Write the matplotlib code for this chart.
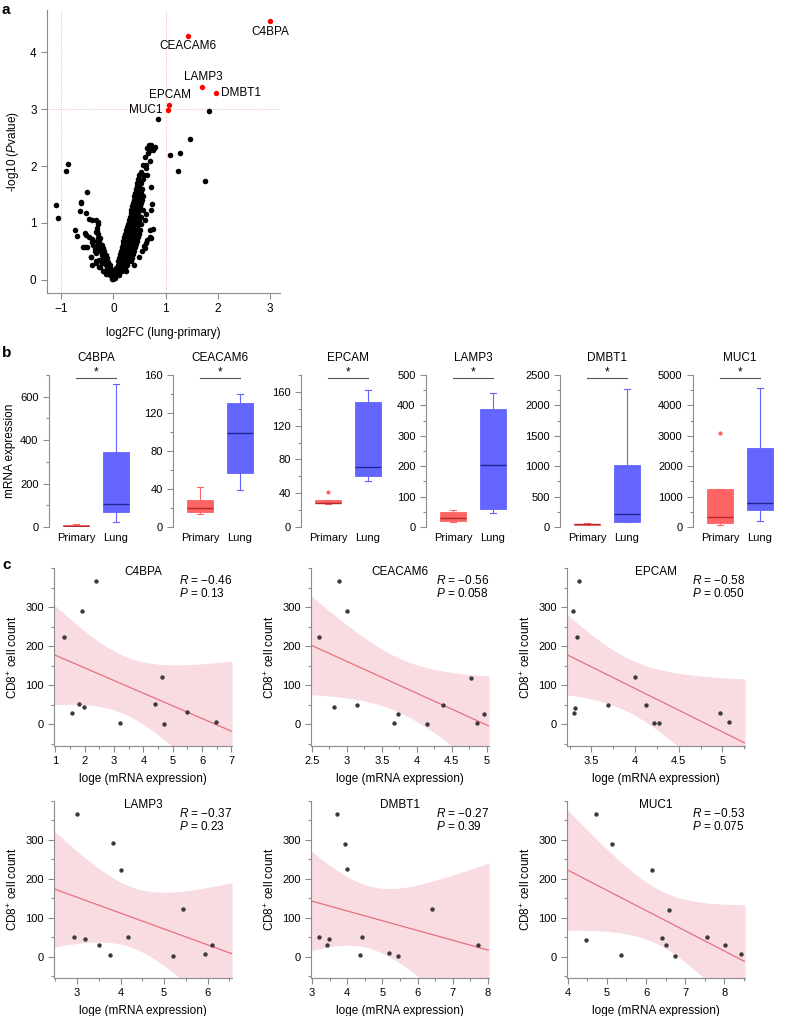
import numpy as np
import matplotlib
matplotlib.use('Agg')
import matplotlib.pyplot as plt
from matplotlib.ticker import MultipleLocator
from matplotlib.transforms import blended_transform_factory

plt.rcParams['font.family'] = ['Liberation Sans', 'DejaVu Sans']
plt.rcParams['mathtext.fontset'] = 'custom'
plt.rcParams['mathtext.rm'] = 'Liberation Sans'
plt.rcParams['mathtext.it'] = 'Liberation Sans:italic'
plt.rcParams['font.size'] = 8

W, H = 786, 1016

# ---------------- panel a: volcano ----------------
volcano_points = [
    # left arm (dense)
    (-0.02, 0.02), (0.0, 0.02), (-0.06, 0.08), (-0.03, 0.08),
    (-0.09, 0.14), (-0.05, 0.14), (-0.12, 0.20), (-0.08, 0.20), (-0.05, 0.20),
    (-0.15, 0.26), (-0.11, 0.26), (-0.07, 0.26), (-0.18, 0.32), (-0.14, 0.32), (-0.10, 0.32),
    (-0.20, 0.38), (-0.16, 0.38), (-0.12, 0.38), (-0.22, 0.44), (-0.18, 0.44), (-0.14, 0.44),
    (-0.25, 0.50), (-0.21, 0.50), (-0.17, 0.50), (-0.28, 0.56), (-0.23, 0.56), (-0.19, 0.56),
    (-0.30, 0.62), (-0.26, 0.62), (-0.22, 0.62), (-0.31, 0.68), (-0.27, 0.68),
    (-0.30, 0.74), (-0.26, 0.74), (-0.30, 0.80), (-0.31, 0.86),
    (-0.14, 0.10), (-0.20, 0.15), (-0.27, 0.23), (-0.33, 0.29), (-0.43, 0.41),
    (-0.25, 0.22), (-0.22, 0.30), (-0.28, 0.35),
    # left scattered
    (-1.09, 1.32), (-1.06, 1.09), (-0.865, 2.03), (-0.90, 1.91), (-0.51, 1.55),
    (-0.61, 1.37), (-0.62, 1.35), (-0.64, 1.21), (-0.53, 1.17), (-0.47, 1.07),
    (-0.40, 1.05), (-0.29, 1.02), (-0.74, 0.88), (-0.69, 0.77), (-0.54, 0.83),
    (-0.53, 0.78), (-0.46, 0.75), (-0.40, 0.72), (-0.41, 0.66), (-0.59, 0.58),
    (-0.55, 0.58), (-0.50, 0.58), (-0.43, 0.40), (-0.33, 0.34), (-0.40, 0.27),
    (-0.33, 0.47), (-0.36, 0.55), (-0.38, 0.62), (-0.34, 0.85), (-0.32, 0.92),
    (-0.36, 0.50), (-0.33, 1.05), (-0.29, 0.98),
    # right arm (dense)
    (0.01, 0.03), (0.04, 0.03), (0.03, 0.09), (0.07, 0.09), (0.10, 0.09),
    (0.05, 0.15), (0.09, 0.15), (0.13, 0.15), (0.17, 0.15),
    (0.06, 0.21), (0.10, 0.21), (0.14, 0.21), (0.19, 0.21), (0.23, 0.21),
    (0.08, 0.27), (0.12, 0.27), (0.16, 0.27), (0.21, 0.27), (0.26, 0.27),
    (0.09, 0.33), (0.13, 0.33), (0.18, 0.33), (0.23, 0.33), (0.28, 0.33), (0.33, 0.33),
    (0.11, 0.39), (0.15, 0.39), (0.20, 0.39), (0.25, 0.39), (0.30, 0.39), (0.36, 0.39),
    (0.13, 0.45), (0.17, 0.45), (0.22, 0.45), (0.27, 0.45), (0.32, 0.45), (0.38, 0.45),
    (0.14, 0.51), (0.19, 0.51), (0.24, 0.51), (0.29, 0.51), (0.34, 0.51), (0.40, 0.51),
    (0.16, 0.57), (0.21, 0.57), (0.26, 0.57), (0.31, 0.57), (0.36, 0.57), (0.42, 0.57),
    (0.18, 0.63), (0.23, 0.63), (0.28, 0.63), (0.33, 0.63), (0.38, 0.63), (0.44, 0.63),
    (0.19, 0.69), (0.24, 0.69), (0.29, 0.69), (0.34, 0.69), (0.40, 0.69), (0.46, 0.69),
    (0.21, 0.75), (0.26, 0.75), (0.31, 0.75), (0.36, 0.75), (0.41, 0.75), (0.47, 0.75),
    (0.23, 0.81), (0.28, 0.81), (0.33, 0.81), (0.38, 0.81), (0.43, 0.81), (0.49, 0.81),
    (0.24, 0.87), (0.29, 0.87), (0.34, 0.87), (0.39, 0.87), (0.45, 0.87), (0.51, 0.87),
    (0.26, 0.93), (0.31, 0.93), (0.36, 0.93), (0.41, 0.93), (0.46, 0.93),
    (0.28, 0.99), (0.33, 0.99), (0.38, 0.99), (0.43, 0.99), (0.48, 0.99), (0.53, 0.99),
    (0.30, 1.05), (0.35, 1.05), (0.40, 1.05), (0.45, 1.05), (0.50, 1.05),
    (0.31, 1.11), (0.36, 1.11), (0.41, 1.11), (0.46, 1.11), (0.52, 1.11),
    (0.33, 1.17), (0.38, 1.17), (0.43, 1.17), (0.48, 1.17),
    (0.34, 1.23), (0.39, 1.23), (0.44, 1.23), (0.50, 1.23), (0.56, 1.23),
    (0.36, 1.29), (0.41, 1.29), (0.46, 1.29), (0.51, 1.29),
    (0.37, 1.35), (0.42, 1.35), (0.47, 1.35), (0.53, 1.35),
    (0.39, 1.41), (0.44, 1.41), (0.49, 1.41), (0.55, 1.41),
    (0.40, 1.47), (0.45, 1.47), (0.50, 1.47), (0.57, 1.47),
    (0.42, 1.53), (0.47, 1.53), (0.52, 1.53), (0.43, 1.59), (0.48, 1.59), (0.55, 1.59),
    (0.45, 1.65), (0.50, 1.65), (0.46, 1.71), (0.53, 1.71), (0.48, 1.77), (0.56, 1.77),
    (0.50, 1.84), (0.58, 1.84), (0.64, 1.84), (0.52, 1.90), (0.63, 1.97),
    (0.56, 2.02), (0.62, 2.02), (0.70, 2.09), (0.60, 2.15), (0.66, 2.22),
    (0.75, 2.28), (0.70, 2.28), (0.65, 2.31), (0.78, 2.31), (0.69, 2.37), (0.72, 2.37), (0.80, 2.34),
    # right scattered
    (0.85, 2.83), (1.83, 2.97), (1.46, 2.48), (1.27, 2.23), (1.09, 2.19),
    (1.23, 1.91), (1.76, 1.73), (0.72, 1.64), (0.74, 1.34), (0.73, 1.23),
    (0.71, 0.88), (0.76, 0.90), (0.70, 0.76), (0.64, 0.70), (0.60, 1.05),
    (0.62, 1.16), (0.58, 0.60), (0.55, 0.50), (0.50, 0.41), (0.40, 0.26),
    (0.24, 0.15), (0.60, 0.56), (0.63, 0.64), (0.72, 0.73),
]
hit_genes = ['C4BPA', 'CEACAM6', 'LAMP3', 'DMBT1', 'EPCAM', 'MUC1']
hit_fc = [3.0, 1.43, 1.70, 1.97, 1.06, 1.04]
hit_p = [4.54, 4.29, 3.38, 3.29, 3.08, 2.99]

# ---------------- panel b: box plots ----------------
box_genes = ['C4BPA', 'CEACAM6', 'EPCAM', 'LAMP3', 'DMBT1', 'MUC1']
# (whisker low, q1, median, q3, whisker high, outliers)
primary_stats = [
    (0, 1, 4, 10, 12, []),
    (14, 16, 20, 28, 42, []),
    (27, 28, 29, 32, 32, [41]),
    (17, 20, 30, 48, 56, []),
    (25, 30, 45, 55, 60, []),
    (60, 120, 320, 1245, 1245, [3080]),
]
lung_stats = [
    (25, 68, 104, 345, 660, []),
    (39, 57, 99, 131, 140, []),
    (55, 60, 71, 148, 162, []),
    (45, 58, 205, 388, 440, []),
    (75, 83, 215, 1020, 2270, []),
    (208, 562, 803, 2600, 4585, []),
]
box_ymax = [700, 160, 180, 500, 2500, 5000]
box_ystep = [200, 40, 40, 100, 500, 1000]

# ---------------- panel c: correlations ----------------
corr_genes = ['C4BPA', 'CEACAM6', 'EPCAM', 'LAMP3', 'DMBT1', 'MUC1']
corr_x = [
    [2.39, 1.90, 1.30, 4.62, 1.80, 1.96, 1.57, 3.21, 4.39, 4.69, 5.48, 6.48],
    [2.60, 2.89, 3.01, 2.82, 3.14, 3.67, 3.73, 4.77, 4.37, 4.14, 4.86, 4.96],
    [3.355, 3.29, 3.34, 3.31, 3.30, 3.69, 4.00, 4.12, 4.22, 4.27, 4.97, 5.08],
    [2.99, 3.82, 4.00, 2.92, 3.18, 3.50, 3.76, 4.18, 5.44, 5.21, 5.93, 6.09],
    [3.71, 3.94, 4.00, 3.20, 3.43, 3.48, 4.43, 4.35, 5.19, 5.44, 6.40, 7.71],
    [4.72, 5.12, 6.15, 4.47, 5.35, 6.58, 6.41, 6.52, 6.75, 7.55, 8.03, 8.42],
]
cd8_count = [
    [366, 290, 223, 122, 52, 45, 30, 4, 52, 2, 31, 7],
    [223, 367, 290, 44, 49, 3, 28, 120, 49, 0, 5, 28],
    [367, 291, 223, 43, 29, 51, 122, 51, 4, 3, 30, 6],
    [367, 292, 223, 50, 44, 29, 3, 51, 122, 1, 6, 30],
    [366, 290, 224, 51, 30, 46, 51, 5, 8, 2, 122, 30],
    [366, 290, 222, 43, 3, 121, 49, 30, 1, 50, 29, 6],
]
corr_r = ['\u22120.46', '\u22120.56', '\u22120.58', '\u22120.37', '\u22120.27', '\u22120.53']
corr_p = ['0.13', '0.058', '0.050', '0.23', '0.39', '0.075']
corr_xlim = [(0.95, 7.02), (2.49, 5.03), (3.22, 5.26), (2.47, 6.56), (2.97, 8.03), (3.98, 8.53)]
corr_xticks = [[1, 2, 3, 4, 5, 6, 7], [2.5, 3, 3.5, 4, 4.5, 5], [3.5, 4, 4.5, 5],
               [3, 4, 5, 6], [3, 4, 5, 6, 7, 8], [4, 5, 6, 7, 8]]
corr_xticklabels = [['1', '2', '3', '4', '5', '6', '7'], ['2.5', '3', '3.5', '4', '4.5', '5'],
                    ['3.5', '4', '4.5', '5'], ['3', '4', '5', '6'],
                    ['3', '4', '5', '6', '7', '8'], ['4', '5', '6', '7', '8']]
T_CRIT = 2.228  # t(0.975, df=10)

SPINE = '#8c8c8c'
RED_BOX, RED_MED = '#ff6464', '#b02a2a'
BLUE_BOX, BLUE_MED = '#6464ff', '#23238f'


def px_axes(fig, left, top, right, bottom):
    return fig.add_axes([left / W, 1 - bottom / H, (right - left) / W, (bottom - top) / H])


def style_axes(ax, bottom=True):
    ax.spines['top'].set_visible(False)
    ax.spines['right'].set_visible(False)
    for s in ('left', 'bottom'):
        ax.spines[s].set_color(SPINE)
        ax.spines[s].set_linewidth(0.8)
    if not bottom:
        ax.spines['bottom'].set_visible(False)
    ax.tick_params(which='both', direction='out', color=SPINE, width=0.8)
    ax.tick_params(which='major', length=4)
    ax.tick_params(which='minor', length=2)


fig = plt.figure(figsize=(W / 100, H / 100), dpi=100)

# ---- a ----
ax = px_axes(fig, 47, 10, 280, 293)
style_axes(ax)
vx = [p[0] for p in volcano_points]
vy = [p[1] for p in volcano_points]
for xv in (-1, 1):
    ax.axvline(xv, color='#f2a0a0', lw=0.6, ls=':', zorder=0)
ax.axhline(3, color='#f2a0a0', lw=0.6, ls=':', zorder=0)
ax.scatter(vx, vy, s=16, color='black', lw=0, zorder=2)
ax.scatter(hit_fc, hit_p, s=15, color='red', lw=0, zorder=3)
label_off = {'C4BPA': (0, -0.19, 'center'), 'CEACAM6': (0, -0.18, 'center'),
             'LAMP3': (0.02, 0.18, 'center'), 'DMBT1': (0.10, 0, 'left'),
             'EPCAM': (0.02, 0.17, 'center'), 'MUC1': (-0.09, 0, 'right')}
for g, x, y in zip(hit_genes, hit_fc, hit_p):
    dx, dy, ha = label_off[g]
    ax.text(x + dx, y + dy, g, ha=ha, va='center', fontsize=8.5)
ax.set_xlim(-1.27, 3.19)
ax.set_ylim(-0.23, 4.74)
ax.set_xticks([-1, 0, 1, 2, 3])
ax.set_yticks([0, 1, 2, 3, 4])
ax.tick_params(labelsize=8.5)
ax.set_xlabel('log2FC (lung-primary)', fontsize=8.5, labelpad=8)
ax.set_ylabel(r'-log10 ($\it{P}$value)', fontsize=8.5)
ax.yaxis.set_label_coords(-0.112, 0.5)
fig.text(2 / W, 1 - 10 / H, 'a', fontsize=11, fontweight='bold', va='center')

# ---- b ----
box_lefts = [49, 173, 301, 426, 560, 693]
for i, gene in enumerate(box_genes):
    L = box_lefts[i]
    ax = px_axes(fig, L, 375, L + 94, 527)
    style_axes(ax, bottom=False)
    for pos, st, fc, mc in ((1, primary_stats[i], RED_BOX, RED_MED),
                            (2, lung_stats[i], BLUE_BOX, BLUE_MED)):
        lo, q1, med, q3, hi, fl = st
        ax.bxp([dict(whislo=lo, q1=q1, med=med, q3=q3, whishi=hi, fliers=fl)],
               positions=[pos], widths=0.63, capwidths=0.16, patch_artist=True,
               boxprops=dict(facecolor=fc, edgecolor=fc, lw=0.6),
               medianprops=dict(color=mc, lw=1.0),
               whiskerprops=dict(color=fc, lw=0.8),
               capprops=dict(color=fc, lw=0.8),
               flierprops=dict(marker='o', markersize=3, markerfacecolor=fc,
                               markeredgecolor='none'),
               manage_ticks=False)
    ax.set_xlim(0.325, 2.675)
    ax.set_ylim(0, box_ymax[i])
    ax.set_yticks(np.arange(0, box_ymax[i] + 1, box_ystep[i]))
    ax.yaxis.set_minor_locator(MultipleLocator(box_ystep[i] / 2))
    ax.set_xticks([1, 2], ['Primary', 'Lung'])
    ax.tick_params(axis='x', length=0, pad=4, labelsize=8)
    ax.tick_params(axis='y', labelsize=8)
    trans = blended_transform_factory(ax.transData, ax.transAxes)
    ax.plot([1, 2], [0.98, 0.98], transform=trans, color='#555555', lw=0.8, clip_on=False)
    ax.text(1.5, 1.02, '*', transform=trans, ha='center', va='center', fontsize=8.5)
    ax.text(1.5, 1.11, gene, transform=trans, ha='center', va='center', fontsize=8.5)
    if i == 0:
        ax.set_ylabel('mRNA expression', fontsize=8.5)
        ax.yaxis.set_label_coords(-0.35, 0.5)
fig.text(2 / W, 1 - 353 / H, 'b', fontsize=11, fontweight='bold', va='center')

# ---- c ----
c_lefts = [54, 311, 567]
c_rows = [(568, 746), (801, 978)]
for i, gene in enumerate(corr_genes):
    L = c_lefts[i % 3]
    top, bot = c_rows[i // 3]
    ax = px_axes(fig, L, top, L + 178, bot)
    style_axes(ax)
    x = np.array(corr_x[i], float)
    y = np.array(cd8_count[i], float)
    n = len(x)
    slope, icpt = np.polyfit(x, y, 1)
    resid = y - (slope * x + icpt)
    s = np.sqrt(np.sum(resid ** 2) / (n - 2))
    sxx = np.sum((x - x.mean()) ** 2)
    xs = np.linspace(corr_xlim[i][0], corr_xlim[i][1], 200)
    yh = slope * xs + icpt
    se = s * np.sqrt(1 / n + (xs - x.mean()) ** 2 / sxx)
    ax.fill_between(xs, yh - T_CRIT * se, yh + T_CRIT * se, color='#f8dce1', lw=0, zorder=1)
    ax.plot(xs, yh, color='#e8707e', lw=0.9, zorder=2)
    ax.scatter(x, y, s=10, color='#3a3a3a', lw=0, zorder=3)
    ax.set_xlim(*corr_xlim[i])
    ax.set_ylim(-55, 400)
    ax.set_xticks(corr_xticks[i], corr_xticklabels[i])
    step = corr_xticks[i][1] - corr_xticks[i][0]
    ax.xaxis.set_minor_locator(MultipleLocator(step / 2))
    ax.set_yticks([0, 100, 200, 300])
    ax.yaxis.set_minor_locator(MultipleLocator(50))
    ax.tick_params(labelsize=8)
    ax.set_xlabel('loge (mRNA expression)', fontsize=8.5, labelpad=5)
    ax.set_ylabel(r'CD8$^{+}$ cell count', fontsize=8.5, labelpad=4)
    ax.text(0.5, 0.98, gene, transform=ax.transAxes, ha='center', va='center', fontsize=8.5)
    ax.text(0.70, 0.93, r'$R$ = ' + corr_r[i], transform=ax.transAxes, ha='left', va='center',
            fontsize=8.5)
    ax.text(0.70, 0.855, r'$P$ = ' + corr_p[i], transform=ax.transAxes, ha='left', va='center',
            fontsize=8.5)
fig.text(2 / W, 1 - 565 / H, 'c', fontsize=11, fontweight='bold', va='center')

fig.savefig('out.png', dpi=100)
